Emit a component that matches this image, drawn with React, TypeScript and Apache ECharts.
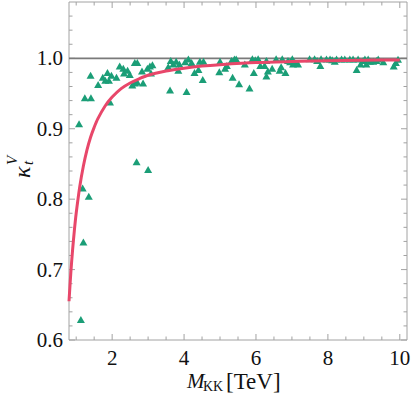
import React, { useEffect, useRef } from "react";
import * as echarts from "echarts";

// ---- data ----
const scatterX = [
  1.08, 1.13, 1.18, 1.2, 1.24, 1.35, 1.4, 1.41, 1.61, 1.74, 1.81, 1.87, 1.91, 1.94, 1.98,
  2.12, 2.21, 2.31, 2.33, 2.43, 2.49, 2.56, 2.63, 2.63, 2.68, 2.7, 2.7, 2.83, 2.86, 2.98,
  3.0, 3.05, 3.08, 3.12, 3.56, 3.61, 3.63, 3.7, 3.78, 3.84, 3.87, 4.03, 4.07, 4.12, 4.21,
  4.29, 4.4, 4.44, 4.52, 4.54, 4.98, 5.0, 5.14, 5.19, 5.32, 5.35, 5.4, 5.45, 5.53, 5.69,
  5.82, 5.9, 5.94, 5.98, 6.06, 6.12, 6.24, 6.29, 6.29, 6.33, 6.45, 6.56, 6.66, 6.7, 6.73,
  6.82, 6.89, 6.95, 7.01, 7.03, 7.08, 7.17, 7.49, 7.63, 7.7, 7.79, 7.81, 7.96, 8.06, 8.12,
  8.19, 8.24, 8.38, 8.47, 8.61, 8.7, 8.8, 8.84, 8.91, 8.98, 9.03, 9.07, 9.12, 9.17, 9.26,
  9.35, 9.4, 9.54, 9.83, 9.89, 9.95,
];
const scatterY = [
  0.907, 0.629, 0.816, 0.739, 0.944, 0.804, 0.976, 0.944, 0.963, 0.973, 0.969, 0.98, 0.969, 0.938, 0.976,
  0.973, 0.989, 0.986, 0.979, 0.983, 0.977, 0.962, 0.965, 0.994, 0.853, 0.966, 0.994, 0.982, 0.965, 0.986,
  0.842, 0.989, 0.979, 0.991, 0.988, 0.955, 0.997, 0.992, 0.996, 0.983, 0.992, 0.995, 0.953, 0.999, 0.994,
  0.98, 0.984, 0.996, 0.97, 0.996, 0.981, 0.996, 0.986, 0.99, 0.997, 0.973, 0.999, 0.999, 0.964, 0.992,
  0.958, 0.9995, 0.98, 0.998, 0.9995, 0.99, 0.99, 0.975, 0.997, 0.982, 0.986, 0.9995, 0.983, 0.988, 0.9995,
  0.98, 0.997, 0.995, 0.9995, 0.992, 0.994, 0.992, 0.9995, 0.9995, 0.997, 0.99, 0.9995, 0.999, 0.999, 0.998,
  0.996, 0.999, 0.999, 0.999, 0.999, 0.999, 0.984, 0.999, 0.992, 0.997, 0.999, 0.992, 0.999, 0.996, 0.996,
  0.997, 0.999, 0.995, 0.989, 0.994, 0.9986,
];

const curveX = [
  0.8, 0.85, 0.9, 0.95, 1.0, 1.1, 1.2, 1.3, 1.4, 1.5, 1.6, 1.8, 2.0, 2.25, 2.5, 2.75, 3.0,
  3.5, 4.0, 4.5, 5.0, 6.0, 7.0, 8.0, 9.0, 10.0,
];
const curveY = [
  0.655, 0.695, 0.728, 0.756, 0.78, 0.818, 0.847, 0.87, 0.888, 0.902, 0.914, 0.932, 0.945,
  0.957, 0.965, 0.971, 0.976, 0.982, 0.986, 0.989, 0.991, 0.994, 0.9955, 0.9966, 0.9973, 0.9978,
];

const refLineValue = 1.0;

const xMajorTicks = [2, 4, 6, 8, 10];
const xMinorTicks = [1, 1.5, 2.5, 3, 3.5, 4.5, 5, 5.5, 6.5, 7, 7.5, 8.5, 9, 9.5];
const yMajorTicks = [0.6, 0.7, 0.8, 0.9, 1.0];
const yMinorTicks = [
  0.62, 0.64, 0.66, 0.68, 0.72, 0.74, 0.76, 0.78, 0.82, 0.84, 0.86, 0.88, 0.92, 0.94, 0.96,
  0.98, 1.02, 1.04, 1.06,
];
const xTickLabels = ["2", "4", "6", "8", "10"];
const yTickLabels = ["0.6", "0.7", "0.8", "0.9", "1.0"];

const X_MIN = 0.8;
const X_MAX = 10.2;
const Y_MIN = 0.6;
const Y_MAX = 1.08;

const FONT = "Liberation Serif";
const FRAME = "#a2a2a2";

export default function App() {
  const ref = useRef<HTMLDivElement>(null);

  useEffect(() => {
    if (!ref.current) return;
    const chart = echarts.init(ref.current, null, { renderer: "svg" });

    const majorLen = 6;
    const minorLen = 3.5;

    const xTickData = [
      ...xMajorTicks.map((v) => [v, Y_MIN, majorLen]),
      ...xMinorTicks.map((v) => [v, Y_MIN, minorLen]),
    ];
    const yTickData = [
      ...yMajorTicks.map((v) => [X_MIN, v, majorLen]),
      ...yMinorTicks.map((v) => [X_MIN, v, minorLen]),
    ];

    const tickStyle = { stroke: FRAME, lineWidth: 1 };
    const labelFont = `21px ${FONT}`;

    chart.setOption({
      animation: false,
      backgroundColor: "#ffffff",
      grid: {
        left: 69,
        right: 4,
        top: 2,
        bottom: 55,
        show: true,
        borderColor: FRAME,
        borderWidth: 1,
        backgroundColor: "transparent",
      },
      xAxis: {
        type: "value",
        min: X_MIN,
        max: X_MAX,
        axisLine: { show: false },
        axisTick: { show: false },
        splitLine: { show: false },
        axisLabel: { show: false },
      },
      yAxis: {
        type: "value",
        min: Y_MIN,
        max: Y_MAX,
        axisLine: { show: false },
        axisTick: { show: false },
        splitLine: { show: false },
        axisLabel: { show: false },
      },
      series: [
        {
          type: "custom",
          name: "xticks",
          silent: true,
          z: 1,
          data: xTickData,
          renderItem: (params: any, api: any) => {
            const p = api.coord([api.value(0), api.value(1)]);
            const cs = params.coordSys;
            const len = api.value(2);
            return {
              type: "group",
              children: [
                { type: "line", shape: { x1: p[0], y1: cs.y + cs.height, x2: p[0], y2: cs.y + cs.height - len }, style: tickStyle },
                { type: "line", shape: { x1: p[0], y1: cs.y, x2: p[0], y2: cs.y + len }, style: tickStyle },
              ],
            };
          },
        },
        {
          type: "custom",
          name: "yticks",
          silent: true,
          z: 1,
          data: yTickData,
          renderItem: (params: any, api: any) => {
            const p = api.coord([api.value(0), api.value(1)]);
            const cs = params.coordSys;
            const len = api.value(2);
            return {
              type: "group",
              children: [
                { type: "line", shape: { x1: cs.x, y1: p[1], x2: cs.x + len, y2: p[1] }, style: tickStyle },
                { type: "line", shape: { x1: cs.x + cs.width, y1: p[1], x2: cs.x + cs.width - len, y2: p[1] }, style: tickStyle },
              ],
            };
          },
        },
        {
          type: "custom",
          name: "xlabels",
          silent: true,
          z: 1,
          data: xMajorTicks.map((v) => [v, Y_MIN]),
          renderItem: (params: any, api: any) => {
            const p = api.coord([api.value(0), api.value(1)]);
            const cs = params.coordSys;
            return {
              type: "text",
              x: p[0],
              y: cs.y + cs.height + 7,
              style: {
                text: xTickLabels[params.dataIndex],
                font: labelFont,
                fill: "#111",
                textAlign: "center",
                textVerticalAlign: "top",
              },
            };
          },
        },
        {
          type: "custom",
          name: "ylabels",
          silent: true,
          z: 1,
          data: yMajorTicks.map((v) => [X_MIN, v]),
          renderItem: (params: any, api: any) => {
            const p = api.coord([api.value(0), api.value(1)]);
            const cs = params.coordSys;
            return {
              type: "text",
              x: cs.x - 6,
              y: p[1],
              style: {
                text: yTickLabels[params.dataIndex],
                font: labelFont,
                fill: "#111",
                textAlign: "right",
                textVerticalAlign: "middle",
              },
            };
          },
        },
        {
          type: "line",
          name: "ref",
          data: [
            [X_MIN, refLineValue],
            [X_MAX, refLineValue],
          ],
          symbol: "none",
          silent: true,
          z: 2,
          lineStyle: { color: "#7a7a7a", width: 1.6 },
        },
        {
          type: "scatter",
          name: "points",
          data: scatterX.map((x, i) => [x, scatterY[i]]),
          symbol: "triangle",
          symbolSize: [8, 7],
          itemStyle: { color: "#1b9e77", opacity: 1 },
          z: 3,
        },
        {
          type: "line",
          name: "fit",
          data: curveX.map((x, i) => [x, curveY[i]]),
          smooth: 0.3,
          symbol: "none",
          z: 4,
          lineStyle: { color: "#e8476a", width: 3 },
        },
      ],
      graphic: [
        {
          type: "group",
          x: 22,
          y: 178,
          rotation: Math.PI / 2,
          children: [
            {
              type: "text",
              x: 0,
              y: 0,
              style: { text: "κ", font: `italic 24px ${FONT}`, fill: "#111", textAlign: "left", textVerticalAlign: "middle" },
            },
            {
              type: "text",
              x: 13,
              y: 6,
              style: { text: "t", font: `italic 15px ${FONT}`, fill: "#111", textAlign: "left", textVerticalAlign: "middle" },
            },
            {
              type: "text",
              x: 13,
              y: -10,
              style: { text: "V", font: `italic 15px ${FONT}`, fill: "#111", textAlign: "left", textVerticalAlign: "middle" },
            },
          ],
        },
        {
          type: "text",
          x: 187,
          y: 381,
          style: { text: "M", font: `italic 21px ${FONT}`, fill: "#111", textAlign: "left", textVerticalAlign: "middle" },
        },
        {
          type: "text",
          x: 203,
          y: 386,
          style: { text: "KK", font: `14px ${FONT}`, fill: "#111", textAlign: "left", textVerticalAlign: "middle" },
        },
        {
          type: "text",
          x: 226,
          y: 381,
          style: { text: "[TeV]", font: `23px ${FONT}`, fill: "#111", textAlign: "left", textVerticalAlign: "middle" },
        },
      ],
    });

    return () => chart.dispose();
  }, []);

  return <div ref={ref} style={{ width: 411, height: 395, position: "absolute", left: 0, top: 0 }} />;
}
